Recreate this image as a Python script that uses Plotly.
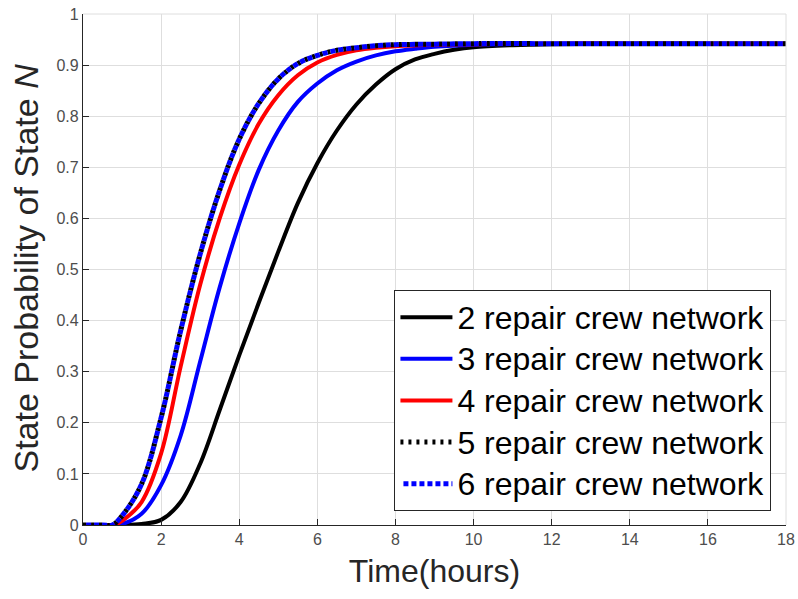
import plotly.graph_objects as go

# Time (hours) and state probability of state N for each crew size
t_2 = [0, 0.5, 1.0, 1.5, 2.0, 2.5, 3.0, 3.5, 4.0, 4.5, 5.0, 5.5, 6.0, 6.5, 7.0, 7.5, 8.0, 8.5, 9.0, 9.5, 10, 11, 12, 14, 16, 18]
p_2 = [0, 0, 0, 0.002, 0.01, 0.045, 0.12, 0.225, 0.332, 0.435, 0.535, 0.63, 0.708, 0.772, 0.823, 0.862,
       0.892, 0.911, 0.922, 0.930, 0.935, 0.939, 0.941, 0.942, 0.942, 0.942]

t_3 = [0, 0.5, 1.0, 1.5, 2.0, 2.5, 3.0, 3.5, 4.0, 4.5, 5.0, 5.5, 6.0, 6.5, 7.0, 7.5, 8.0, 8.5, 9.0, 10, 12, 14, 16, 18]
p_3 = [0, 0, 0.002, 0.022, 0.078, 0.175, 0.32, 0.465, 0.59, 0.695, 0.772, 0.828, 0.864, 0.890, 0.907, 0.919,
       0.927, 0.932, 0.936, 0.940, 0.942, 0.942, 0.942, 0.942]

t_4 = [0, 0.5, 0.8, 1.0, 1.5, 2.0, 2.5, 3.0, 3.5, 4.0, 4.5, 5.0, 5.5, 6.0, 6.5, 7.0, 7.5, 8.0, 9.0, 10, 12, 14, 16, 18]
p_4 = [0, 0, 0, 0.008, 0.045, 0.14, 0.31, 0.47, 0.60, 0.705, 0.785, 0.841, 0.880, 0.905, 0.920, 0.929,
       0.934, 0.937, 0.940, 0.941, 0.942, 0.942, 0.942, 0.942]

t_5 = [0, 0.5, 0.75, 1.0, 1.5, 2.0, 2.5, 3.0, 3.5, 4.0, 4.5, 5.0, 5.5, 6.0, 6.5, 7.0, 7.5, 8.0, 9.0, 10, 12, 14, 16, 18]
p_5 = [0, 0, 0, 0.018, 0.08, 0.21, 0.38, 0.53, 0.655, 0.755, 0.825, 0.873, 0.903, 0.919, 0.929, 0.934,
       0.938, 0.940, 0.941, 0.942, 0.942, 0.942, 0.942, 0.942]

t_6 = list(t_5)
p_6 = list(p_5)

x_ticks = [0, 2, 4, 6, 8, 10, 12, 14, 16, 18]
y_ticks = [0, 0.1, 0.2, 0.3, 0.4, 0.5, 0.6, 0.7, 0.8, 0.9, 1]
y_tick_text = ["0", "0.1", "0.2", "0.3", "0.4", "0.5", "0.6", "0.7", "0.8", "0.9", "1"]

# (label, t, p, colour, dash, width); the two dotted series interleave their dots
series = [
    ("2 repair crew network", t_2, p_2, "black", "solid", 4),
    ("3 repair crew network", t_3, p_3, "#0000ff", "solid", 4),
    ("4 repair crew network", t_4, p_4, "#ff0000", "solid", 4),
    ("5 repair crew network", t_5, p_5, "black", "3px,5px", 5),
    ("6 repair crew network", t_6, p_6, "#0000ff", "0px,3px,5px,0px", 5),
]

fig = go.Figure()
for name, t, p, color, dash, width in series:
    fig.add_trace(go.Scatter(
        x=t, y=p, mode="lines",
        name='<span style="font-size:32px">%s</span>' % name,
        line=dict(color=color, width=width, dash=dash, shape="spline", smoothing=1.0),
    ))

axis_common = dict(
    showgrid=True, gridcolor="#dedede", gridwidth=1,
    showline=True, linecolor="#262626", linewidth=1.2,
    ticks="inside", ticklen=6, tickcolor="#262626",
    tickfont=dict(family="Liberation Sans, Arial", size=16, color="#4d4d4d"),
    zeroline=False, mirror=False, automargin=False,
)

fig.update_layout(
    width=798, height=599,
    margin=dict(l=83, r=12, t=14, b=74),
    paper_bgcolor="white", plot_bgcolor="white",
    font=dict(family="Liberation Sans, Arial", color="#262626"),
    xaxis=dict(range=[0, 18], tickvals=x_ticks, ticktext=[str(v) for v in x_ticks],
               title=dict(text="Time(hours)", font=dict(size=32, color="#262626"), standoff=12),
               **axis_common),
    yaxis=dict(range=[0, 1], tickvals=y_ticks, ticktext=y_tick_text, **axis_common),
    legend=dict(
        x=0.979, y=0.027, xanchor="right", yanchor="bottom",
        bgcolor="white", bordercolor="#262626", borderwidth=1.2,
        font=dict(family="Liberation Sans, Arial", size=29.7, color="black"),
        tracegroupgap=0, itemwidth=52,
    ),
    showlegend=True,
)

# y-axis label
fig.add_annotation(
    text="State Probability of State <i>N</i>", textangle=-90,
    xref="paper", yref="paper", x=-0.081, y=0.502, xanchor="center", yanchor="middle",
    showarrow=False, font=dict(family="Liberation Sans, Arial", size=34, color="#262626"),
)

# light frame on the top and right edges, drawn like grid lines
fig.add_shape(type="line", xref="paper", yref="paper", x0=0, x1=1, y0=1, y1=1,
              line=dict(color="#dedede", width=1))
fig.add_shape(type="line", xref="paper", yref="paper", x0=1, x1=1, y0=0, y1=1,
              line=dict(color="#dedede", width=1))

fig.write_html("out.html")
